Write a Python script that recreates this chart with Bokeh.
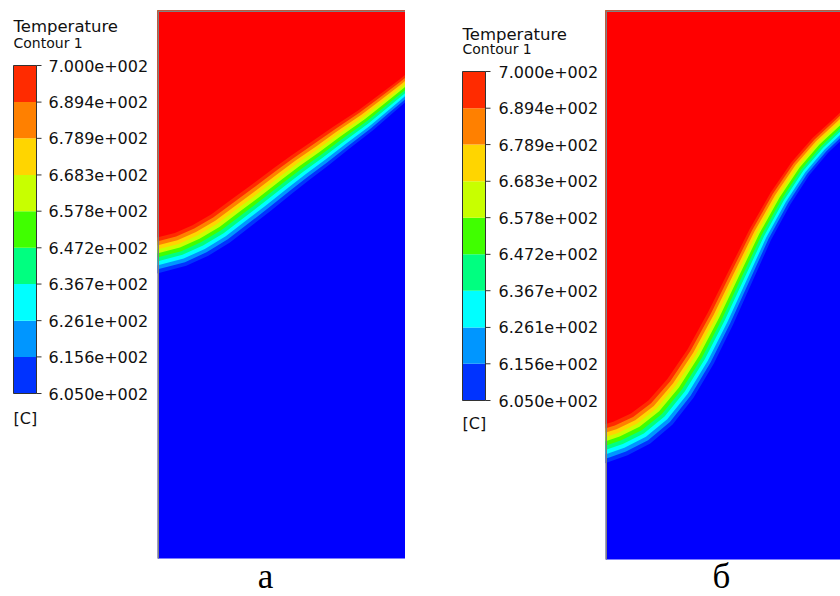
import numpy as np
from bokeh.plotting import figure
from bokeh.models import Range1d, ColumnDataSource
from bokeh.core.properties import value
from bokeh.layouts import row
from bokeh.embed import file_html
from bokeh.resources import INLINE

# ---------------- data ----------------
levels = [605.0, 615.6, 626.1, 636.7, 647.2, 657.8, 668.3, 678.9, 689.4, 700.0]
band_colors = ["#0033FF", "#0096FF", "#00FFFF", "#00FF80", "#40FF00",
               "#C8FF00", "#FFD500", "#FF8000", "#FF2B00"]
hot_color = "#FF0000"
cold_color = "#0000FF"

# panel "а": centre line of the transition band (x, y) and band thickness
a_x = [0.0, 9.3, 17.3, 25.4, 33.5, 41.5, 50.8, 57.7, 65.7, 73.8, 83.9, 91.9, 100.0]
a_y = [121.7, 124.1, 127.7, 132.5, 138.6, 144.6, 151.8, 157.0, 162.7, 168.7, 175.9, 182.3, 188.8]
a_w = [14.0, 14.0, 13.8, 13.6, 13.3, 13.0, 12.6, 12.2, 11.7, 11.0, 10.0, 9.2, 8.5]

# panel "б"
b_x = [0.0, 6.0, 14.1, 22.1, 30.1, 38.2, 46.2, 54.2, 62.2, 70.3, 78.3, 86.3, 94.4]
b_y = [46.6, 48.6, 52.6, 59.0, 68.7, 81.5, 96.8, 113.7, 130.5, 145.0, 157.0, 166.3, 173.9]
b_w = [14.9, 14.7, 14.3, 13.7, 12.9, 12.0, 11.2, 10.4, 9.6, 9.2, 8.8, 8.6, 8.4]

legend_title = "Temperature"
legend_sub = "Contour 1"
legend_unit = "[C]"
captions = ["а", "б"]

FONT = "DejaVu Sans"
TXT = "#111111"
H = 596
TOP = 10  # common frame top (px)


def fmt(v):
    e = int(np.floor(np.log10(v) + 1e-9))
    return f"{v / 10 ** e:.3f}e+{e:03d}"


def colorbar_fig(width, bar_l, bar_r, bar_top, bar_bot, lab_x, base_title, base_sub, base_unit):
    lo, hi = levels[0], levels[-1]
    k = (hi - lo) / (bar_bot - bar_top)

    def t_of(py):
        return hi - (py - bar_top) * k

    p = figure(width=width, height=H, x_range=Range1d(0, width),
               y_range=Range1d(t_of(H), t_of(TOP)),
               x_axis_location=None, y_axis_location=None,
               toolbar_location=None, output_backend="svg",
               min_border_left=0, min_border_right=0,
               min_border_top=TOP, min_border_bottom=0)
    p.grid.visible = False
    p.outline_line_color = None
    p.border_fill_color = "white"
    p.background_fill_color = "white"

    src = ColumnDataSource(dict(bottom=levels[:-1], top=levels[1:], color=band_colors))
    p.quad(left=bar_l, right=bar_r, bottom="bottom", top="top", fill_color="color",
           line_color=None, source=src)
    p.quad(left=bar_l, right=bar_r, bottom=lo, top=hi, fill_color=None,
           line_color="#333333", line_width=1)
    tsrc = ColumnDataSource(dict(y=levels, label=[fmt(v) for v in levels]))
    p.segment(x0=bar_r, x1=bar_r + 5, y0="y", y1="y", line_color="#333333",
              line_width=1, source=tsrc)
    p.text(x=lab_x, y="y", text="label", source=tsrc, text_font=value(FONT),
           text_font_size="16px", text_color=TXT, text_baseline="middle",
           text_align="left")
    for txt, base, size in [(legend_title, base_title, "16.5px"),
                            (legend_sub, base_sub, "14px"),
                            (legend_unit, base_unit, "16px")]:
        p.text(x=[bar_l], y=[t_of(base)], text=[txt], text_font=value(FONT),
               text_font_size=size, text_color=TXT, text_baseline="alphabetic",
               text_align="left")
    return p


def offset_polys(xs, ys, ws):
    xs = np.asarray(xs, float)
    ys = np.asarray(ys, float)
    ws = np.asarray(ws, float)
    dx = np.gradient(xs)
    dy = np.gradient(ys)
    L = np.hypot(dx, dy)
    tx, ty = dx / L, dy / L
    nx, ny = -ty, tx
    lo, hi = levels[0], levels[-1]
    mid = 0.5 * (lo + hi)
    ext = 80.0
    top = 2000.0
    pxs, pys = [], []
    for lev in levels:
        f = (lev - mid) / (hi - lo)
        ox = xs + nx * ws * f
        oy = ys + ny * ws * f
        ex0, ey0 = ox[0] - tx[0] * ext, oy[0] - ty[0] * ext
        ex1, ey1 = ox[-1] + tx[-1] * ext, oy[-1] + ty[-1] * ext
        pxs.append([ex0, *ox.tolist(), ex1, ex1, ex0])
        pys.append([ey0, *oy.tolist(), ey1, top, top])
    return pxs, pys


def contour_fig(width, dom_bot_px, xmax, ymax, xs, ys, ws, caption, cap_px, cap_base_px, fig_left_px):
    sy = (dom_bot_px - TOP) / ymax          # px per unit (vertical)
    sx = width / xmax                       # px per unit (horizontal)
    ybot = -(H - dom_bot_px) / sy
    p = figure(width=width, height=H, x_range=Range1d(0, xmax), y_range=Range1d(ybot, ymax),
               x_axis_location=None, y_axis_location=None,
               toolbar_location=None, output_backend="svg",
               min_border_left=0, min_border_right=0,
               min_border_top=TOP, min_border_bottom=0)
    p.grid.visible = False
    p.background_fill_color = "white"
    p.border_fill_color = "white"
    p.outline_line_color = None
    p.quad(left=0, right=xmax, bottom=0, top=ymax, fill_color=cold_color, line_color=None)
    pxs, pys = offset_polys(xs, ys, ws)
    fills = band_colors + [hot_color]
    src = ColumnDataSource(dict(xs=pxs, ys=pys, color=fills))
    p.patches("xs", "ys", fill_color="color", line_color=None, source=src)
    p.line(x=[0, 0, xmax], y=[0, ymax, ymax], line_color="#808080", line_width=3)
    p.text(x=[(cap_px - fig_left_px) / sx], y=[-(cap_base_px - dom_bot_px) / sy],
           text=[caption], text_font=value("Liberation Serif"), text_font_size="35px",
           text_color="#000000", text_baseline="alphabetic", text_align="center")
    return p


c1 = colorbar_fig(157, 13, 36, 65, 393, 48, 26, 42, 418)
pa = contour_fig(248, 558, 100.0, 220.0, a_x, a_y, a_w, captions[0], 265, 576, 157)
c2 = colorbar_fig(200, 57, 80, 71, 400, 93, 34, 48, 423)
pb = contour_fig(235, 559, 94.4, 220.5, b_x, b_y, b_w, captions[1], 721, 576, 605)

layout = row(c1, pa, c2, pb)
open("out.html", "w").write(file_html(layout, INLINE))
